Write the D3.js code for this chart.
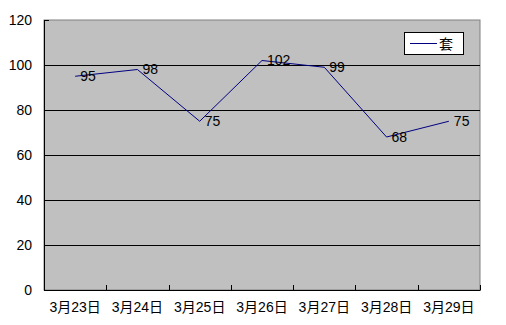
<!DOCTYPE html>
<html>
<head>
<meta charset="utf-8">
<script src="https://cdn.jsdelivr.net/npm/d3@7"></script>
<style>
  body { margin: 0; background: #fff; }
  text { font-family: "Liberation Sans", "Noto Sans CJK SC", sans-serif; font-size: 14px; fill: #000; }
</style>
</head>
<body>
<svg id="chart" width="506" height="325"></svg>
<script>
// データ
const categories = ["3月23日", "3月24日", "3月25日", "3月26日", "3月27日", "3月28日", "3月29日"];
const values = [95, 98, 75, 102, 99, 68, 75];
const yTicks = [0, 20, 40, 60, 80, 100, 120];
const seriesName = "套";

const svg = d3.select("#chart");
const margin = { left: 44, right: 26, top: 20, bottom: 35 };
const width = 506 - margin.left - margin.right;
const height = 325 - margin.top - margin.bottom;

const g = svg.append("g").attr("transform", `translate(${margin.left},${margin.top})`);

const x = d3.scaleBand().domain(categories).range([0, width]);
const y = d3.scaleLinear().domain([0, 120]).range([height, 0]);

// 背景
g.append("rect")
    .attr("width", width)
    .attr("height", height)
    .attr("fill", "#c0c0c0")
    .attr("stroke", "#808080");

// グリッド線
g.selectAll(".grid")
    .data(yTicks.filter(d => d > 0 && d < 120))
    .enter().append("line")
    .attr("x1", 0).attr("x2", width)
    .attr("y1", d => Math.round(y(d)) + 0.5)
    .attr("y2", d => Math.round(y(d)) + 0.5)
    .attr("stroke", "#000");

// Y軸
const yAxis = d3.axisLeft(y).tickValues(yTicks).tickSizeInner(-5).tickSizeOuter(0).tickPadding(12);
g.append("g").call(yAxis)
    .call(s => s.select(".domain").attr("stroke", "#000"))
    .call(s => s.selectAll("text").style("font-size", "14px"));

// X軸
const xTickPos = categories.map((c, i) => i).concat([categories.length]);
const xAxis = d3.axisBottom(x).tickSize(0).tickPadding(12);
const xg = g.append("g").attr("transform", `translate(0,${height})`).call(xAxis);
xg.select(".domain").attr("stroke", "#000");
xg.selectAll("text").style("font-size", "14px");
g.selectAll(".xtick")
    .data(xTickPos.slice(1))
    .enter().append("line")
    .attr("x1", i => Math.round(i * x.step()) + 0.5)
    .attr("x2", i => Math.round(i * x.step()) + 0.5)
    .attr("y1", height)
    .attr("y2", height - 5)
    .attr("stroke", "#000");

// 折れ線
const cx = (d, i) => x(categories[i]) + x.bandwidth() / 2;
const line = d3.line().x(cx).y(d => y(d));
g.append("path")
    .datum(values)
    .attr("d", line)
    .attr("fill", "none")
    .attr("stroke", "#000080")
    .attr("stroke-width", 1);

// データラベル
g.selectAll(".label")
    .data(values)
    .enter().append("text")
    .attr("x", (d, i) => cx(d, i) + 5)
    .attr("y", d => y(d))
    .attr("dy", "0.35em")
    .text(d => d);

// 凡例
const lg = svg.append("g").attr("transform", "translate(404,32)");
lg.append("rect")
    .attr("x", 0.5).attr("y", 0.5)
    .attr("width", 59).attr("height", 22)
    .attr("fill", "#fff")
    .attr("stroke", "#000");
lg.append("line")
    .attr("x1", 6).attr("x2", 33)
    .attr("y1", 11.5).attr("y2", 11.5)
    .attr("stroke", "#000080");
lg.append("text")
    .attr("x", 35).attr("y", 12)
    .attr("dy", "0.35em")
    .attr("font-family", "Noto Sans CJK SC")
    .text(seriesName);
</script>
</body>
</html>
